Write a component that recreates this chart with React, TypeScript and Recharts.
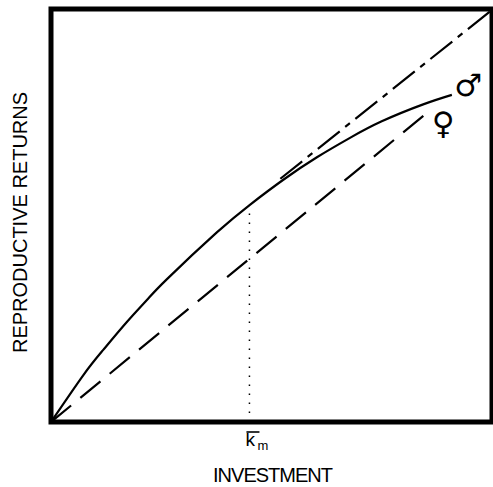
import React from "react";
import {
  LineChart,
  Line,
  XAxis,
  YAxis,
  ReferenceArea,
  ReferenceDot,
} from "recharts";

// male returns curve (solid)
const maleX = [0, 7.3, 11.8, 17.2, 21.8, 26.3, 37.6, 45.1, 52.6, 60.3, 67.8, 75, 84.4, 90.9];
const maleY = [0, 11.3, 17.4, 24.2, 29.6, 34.6, 45.9, 52.6, 58.6, 64.1, 68.8, 72.8, 76.9, 79.2];

// female returns (dashed, straight)
const femaleX = [0, 86];
const femaleY = [0, 75.5];

// tangent parallel to female line (dash-dot)
const tangentX = [52, 100];
const tangentY = [58.9, 99.8];

// optimum investment k_m
const kmX = 45;
const kmY = [0, 51.5];

const symbols = [
  { x: 94.6, y: 81.5, text: "♂" },
  { x: 88.9, y: 72.4, text: "♀" },
];

const zip = (xs: number[], ys: number[]) => xs.map((x, i) => ({ x, y: ys[i] }));

const maleData = zip(maleX, maleY);
const femaleData = zip(femaleX, femaleY);
const tangentData = zip(tangentX, tangentY);
const kmData = kmY.map((y) => ({ x: kmX, y }));

const FONT = "'Liberation Sans', Arial, sans-serif";

function KmTick(props: any) {
  const { x, y } = props;
  return (
    <g fontFamily={FONT} fill="#000">
      <line x1={x - 3} x2={x + 10} y1={y + 10} y2={y + 10} stroke="#000" strokeWidth={1.6} />
      <text x={x - 4} y={y + 24} fontSize={19}>
        k
      </text>
      <text x={x + 8} y={y + 28} fontSize={13}>
        m
      </text>
    </g>
  );
}

function XLabel({ viewBox }: any) {
  if (!viewBox) return null;
  return (
    <text
      x={viewBox.x + viewBox.width / 2 + 1}
      y={viewBox.y + 60}
      textAnchor="middle"
      fontFamily={FONT}
      fontSize={20}
      letterSpacing={-1}
      fill="#000"
    >
      INVESTMENT
    </text>
  );
}

function YLabel({ viewBox }: any) {
  if (!viewBox) return null;
  const cx = viewBox.x + viewBox.width - 31;
  const cy = viewBox.y + viewBox.height / 2 + 7;
  return (
    <text
      x={cx}
      y={cy}
      transform={`rotate(-90, ${cx}, ${cy})`}
      textAnchor="middle"
      dominantBaseline="central"
      fontFamily={FONT}
      fontSize={20}
      fill="#000"
    >
      REPRODUCTIVE RETURNS
    </text>
  );
}

export default function App() {
  return (
    <div style={{ position: "absolute", left: 0, top: 0, background: "#fff" }}>
      <LineChart
        width={493}
        height={487}
        margin={{ top: 9, right: 1, left: 6, bottom: 5 }}
      >
        <XAxis
          type="number"
          dataKey="x"
          domain={[0, 100]}
          ticks={[kmX]}
          allowDataOverflow
          axisLine={false}
          tickLine={false}
          tickSize={0}
          tickMargin={0}
          height={60}
          tick={<KmTick />}
          label={<XLabel />}
        />
        <YAxis
          type="number"
          dataKey="y"
          domain={[0, 100]}
          allowDataOverflow
          axisLine={false}
          tick={false}
          tickLine={false}
          width={45}
          label={<YLabel />}
        />
        <ReferenceArea
          x1={0}
          x2={100}
          y1={0}
          y2={100}
          fill="none"
          stroke="#000"
          strokeWidth={5}
        />
        <Line
          data={kmData}
          dataKey="y"
          type="linear"
          stroke="#000"
          strokeWidth={1.5}
          strokeDasharray="1.5 7.5"
          dot={false}
          activeDot={false}
          isAnimationActive={false}
        />
        <Line
          data={femaleData}
          dataKey="y"
          type="linear"
          stroke="#000"
          strokeWidth={2.2}
          strokeDasharray="26 12"
          dot={false}
          activeDot={false}
          isAnimationActive={false}
        />
        <Line
          data={tangentData}
          dataKey="y"
          type="linear"
          stroke="#000"
          strokeWidth={2.2}
          strokeDasharray="28 7 6 7"
          dot={false}
          activeDot={false}
          isAnimationActive={false}
        />
        <Line
          data={maleData}
          dataKey="y"
          type="natural"
          stroke="#000"
          strokeWidth={2.2}
          dot={false}
          activeDot={false}
          isAnimationActive={false}
        />
        {symbols.map((s) => (
          <ReferenceDot
            key={s.text}
            x={s.x}
            y={s.y}
            r={1}
            fill="none"
            stroke="none"
            label={{
              value: s.text,
              position: "center",
              fontSize: 31,
              fill: "#000",
              fontFamily: "'DejaVu Sans', sans-serif",
            }}
          />
        ))}
      </LineChart>
    </div>
  );
}
